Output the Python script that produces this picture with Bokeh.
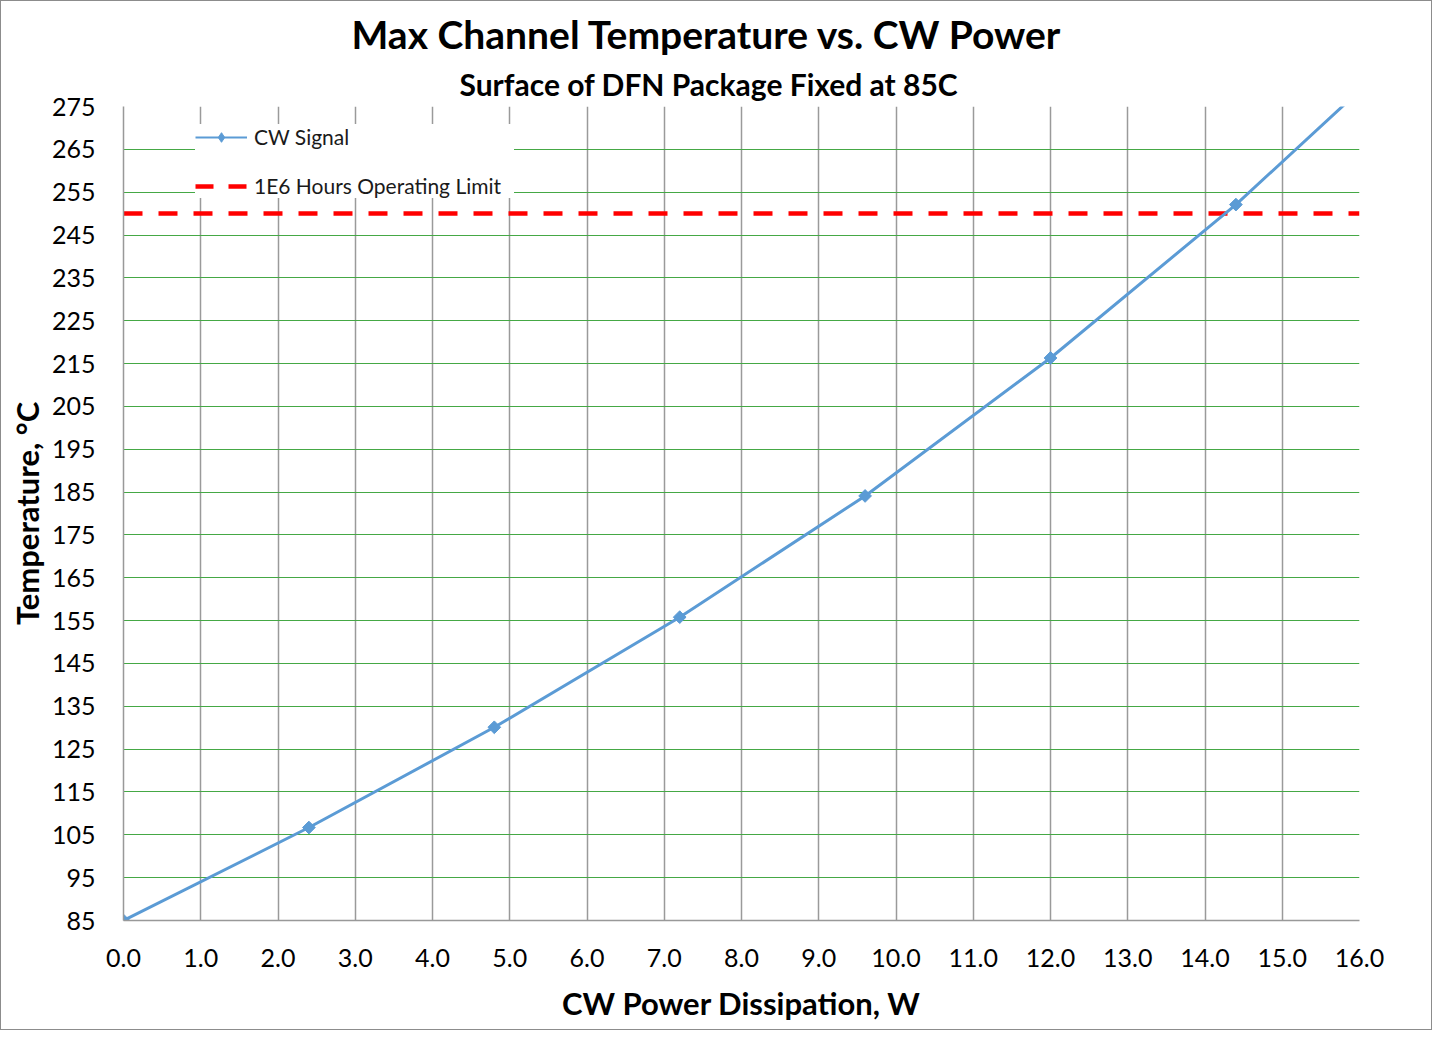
import math
from bokeh.plotting import figure
from bokeh.models import Title, Legend, LegendItem, FixedTicker, Range1d
from bokeh.embed import file_html
from bokeh.resources import INLINE

# ---- data ----
power_w = [0.0, 2.4, 4.8, 7.2, 9.6, 12.0, 14.4, 16.8]
temp_c = [85.0, 106.7, 130.1, 155.8, 184.1, 216.3, 252.1, 292.0]
limit_c = 250.0
x_ticks = [float(v) for v in range(0, 17)]
y_ticks = list(range(85, 276, 10))
series_names = ["CW Signal", "1E6 Hours Operating Limit"]

FONT = "Lato"
NAN = float("nan")
DIAMOND = math.pi / 4

p = figure(width=1432, height=1030, output_backend="svg", toolbar_location=None,
           x_range=Range1d(x_ticks[0], x_ticks[-1]), y_range=Range1d(y_ticks[0], y_ticks[-1]),
           min_border_left=122, min_border_right=74, min_border_top=105, min_border_bottom=111)
p.outline_line_color = None
p.background_fill_color = "white"
p.border_fill_color = "white"

# titles (subtitle first so it sits nearest the plot)
sub = Title(text="Surface of DFN Package Fixed at 85C", align="left",
            text_font=FONT, text_font_size="30px", text_font_style="bold",
            text_color="black", offset=336, standoff=9)
p.add_layout(sub, "above")
main = Title(text="Max Channel Temperature vs. CW Power", align="left",
             text_font=FONT, text_font_size="39px", text_font_style="bold",
             text_color="black", offset=228, standoff=5)
p.add_layout(main, "above")

# axes
p.xaxis.ticker = FixedTicker(ticks=x_ticks)
p.yaxis.ticker = FixedTicker(ticks=y_ticks)
p.xaxis.major_label_overrides = {t: f"{t:.1f}" for t in x_ticks}
for ax in (p.xaxis[0], p.yaxis[0]):
    ax.major_tick_line_color = None
    ax.minor_tick_line_color = None
    ax.axis_line_color = "#999999"
    ax.axis_line_width = 1.5
    ax.major_label_text_font = FONT
    ax.major_label_text_font_size = "25px"
    ax.major_label_text_color = "black"
    ax.axis_label_text_font = FONT
    ax.axis_label_text_font_size = "31px"
    ax.axis_label_text_font_style = "bold"
    ax.axis_label_text_color = "black"
p.xaxis.axis_label = "CW Power Dissipation, W"
p.yaxis.axis_label = "Temperature, °C"
p.xaxis.major_label_standoff = 22
p.yaxis.major_label_standoff = 22
p.xaxis.axis_label_standoff = 14
p.yaxis.axis_label_standoff = 3

p.xgrid.grid_line_color = "#9a9a9a"
p.xgrid.grid_line_width = 1.5
p.ygrid.grid_line_color = "#45a845"
p.ygrid.grid_line_width = 1.2

# limit line
lim = p.line([x_ticks[0], x_ticks[-1]], [limit_c, limit_c], line_color="#ff0000",
             line_width=4.5, line_dash="19 16")

# signal line
sig_line = p.line(power_w, temp_c, line_color="#5b9bd5", line_width=3)
sig_pts = p.scatter(power_w, temp_c, marker="square", angle=DIAMOND, size=9,
                    fill_color="#5b9bd5", line_color="#5b9bd5")

# legend proxies (thinner line in legend)
leg_line = p.line([NAN], [NAN], line_color="#5b9bd5", line_width=2)
leg_pts = p.scatter([NAN], [NAN], marker="diamond", size=13,
                    fill_color="#5b9bd5", line_color="#5b9bd5")
leg_lim = p.line([NAN], [NAN], line_color="#ff0000", line_width=4.5, line_dash="18 15")

legend = Legend(items=[LegendItem(label=series_names[0], renderers=[leg_line, leg_pts]),
                       LegendItem(label=series_names[1], renderers=[leg_lim])],
                location=(72, 722), orientation="vertical",
                label_text_font=FONT, label_text_font_size="21px", label_text_color="#1a1a1a",
                glyph_width=52, glyph_height=24, label_height=24, label_width=260, spacing=24,
                padding=12, margin=0, label_standoff=7,
                background_fill_color="white", background_fill_alpha=1.0,
                border_line_color=None)
p.add_layout(legend, "center")

p.styles = {"border": "1.5px solid #8c8c8c", "box-sizing": "border-box"}

open("out.html", "w").write(file_html(p, INLINE))
